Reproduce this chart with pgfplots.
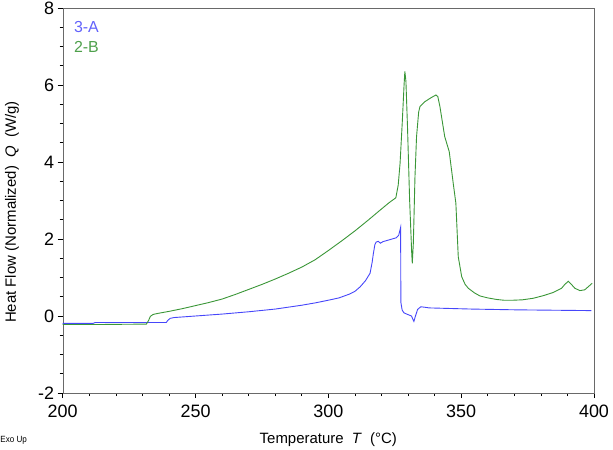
\documentclass[border=0pt]{standalone}
\usepackage{pgfplots}
\pgfplotsset{compat=1.18}
\usepackage{fontspec}
\setmainfont{Liberation Sans}

\definecolor{lineA}{RGB}{70,70,250}
\definecolor{lineB}{RGB}{58,150,55}
\definecolor{framegray}{RGB}{105,105,105}

\begin{document}
\begin{tikzpicture}
\path[use as bounding box] (-62.7bp,-57bp) rectangle (550.3bp,393bp);
\begin{axis}[
    scale only axis,
    width=531.3bp, height=385bp,
    xmin=200, xmax=400,
    ymin=-2, ymax=8,
    xtick={200,250,...,400},
    ytick={-2,0,...,8},
    minor x tick num=4,
    minor y tick num=3,
    tick pos=left,
    tick align=outside,
    major tick length=5bp,
    minor tick length=3bp,
    axis line style={framegray},
    tick style={black, line width=0.6bp},
    /pgf/number format/assume math mode=true,
    tick label style={font=\fontsize{18}{18}\selectfont},
    xticklabel style={yshift=-3bp},
    xlabel={Temperature \ \textit{T} \ (°C)},
    ylabel={Heat Flow (Normalized) \ \textit{Q} \ (W/g)},
    label style={font=\fontsize{15}{15}\selectfont},
    xlabel style={at={(axis description cs:0.5,0)}, anchor=center, yshift=-47bp},
    ylabel style={at={(axis description cs:-0.0955,0.47)}, anchor=center},
    clip=false,
]
% 3-A
\addplot[lineA, line width=0.9bp] coordinates {
(200,-0.19) (211.5,-0.19) (212.2,-0.17) (239.0,-0.17) (239.6,-0.11)
(240.5,-0.06) (242,-0.04) (250,0.0) (260,0.05) (270,0.11) (280,0.18)
(290,0.28) (295,0.34) (300,0.41) (304,0.47) (308,0.57) (310,0.64)
(312,0.76) (314,0.92) (315.7,1.11) (316.5,1.4) (316.9,1.6) (317.5,1.85)
(318.0,1.92) (318.8,1.94) (319.6,1.89) (320.5,1.93) (322,1.96) (324,2.0)
(325.5,2.03) (326.5,2.1) (327.2,2.3) (327.3,0.35) (327.8,0.15) (328.5,0.08)
(330.2,0.03) (331.3,0.0) (331.9,-0.1) (332.2,-0.14) (332.7,-0.02)
(333.6,0.17) (334.8,0.24) (336,0.23) (338,0.21) (354,0.18) (370.8,0.16)
(399,0.14)
};
% 2-B
\addplot[lineB, line width=0.9bp] coordinates {
(200,-0.22) (215,-0.22) (231.5,-0.21) (232.3,-0.12) (233.0,-0.01)
(234.0,0.04) (236,0.07) (240,0.12) (245,0.19) (250,0.27) (255,0.35)
(260,0.44) (265,0.56) (270,0.69) (275,0.82) (280,0.96) (285,1.11)
(290,1.27) (295,1.46) (300,1.7) (305,1.95) (310,2.21) (315,2.49)
(320,2.78) (323,2.95) (325.4,3.07) (326.3,3.4) (327.0,3.97) (327.8,5.0)
(328.5,6.0) (328.8,6.35) (329.2,6.1) (329.8,4.9) (330.6,3.0) (331.4,1.6)
(331.6,1.37) (332.0,1.9) (332.6,3.6) (333.2,4.66) (334.0,5.3) (334.5,5.44)
(336.4,5.57) (338.9,5.68) (340.5,5.74) (341.2,5.7) (342.0,5.44)
(343.8,4.66) (345.5,4.27) (347.0,3.45) (348.0,2.93) (348.9,1.54)
(350.2,1.02) (351.5,0.82) (352.7,0.72) (355,0.6) (357.1,0.52) (360,0.47)
(363.3,0.43) (366,0.41) (369.6,0.41) (373,0.42) (377.1,0.46) (381,0.53)
(384.6,0.61) (387.8,0.72) (389,0.82) (390.3,0.9) (391.5,0.82) (392.8,0.72)
(394.7,0.66) (396.5,0.68) (398.5,0.8) (399.3,0.85)
};

% legend texts
\node[anchor=west, text=lineA!85!white, font=\fontsize{16}{16}\selectfont, inner sep=0pt]
  at (axis description cs:0.021,0.950) {3-A};
\node[anchor=west, text=lineB!90!white, font=\fontsize{16}{16}\selectfont, inner sep=0pt]
  at (axis description cs:0.021,0.900) {2-B};

% bottom-left note
\node[anchor=west, font=\fontsize{9}{9}\selectfont, inner sep=0pt, xscale=0.9]
  at ([xshift=-62.5bp, yshift=-47bp]axis description cs:0,0) {Exo Up};
\end{axis}
\end{tikzpicture}
\end{document}
